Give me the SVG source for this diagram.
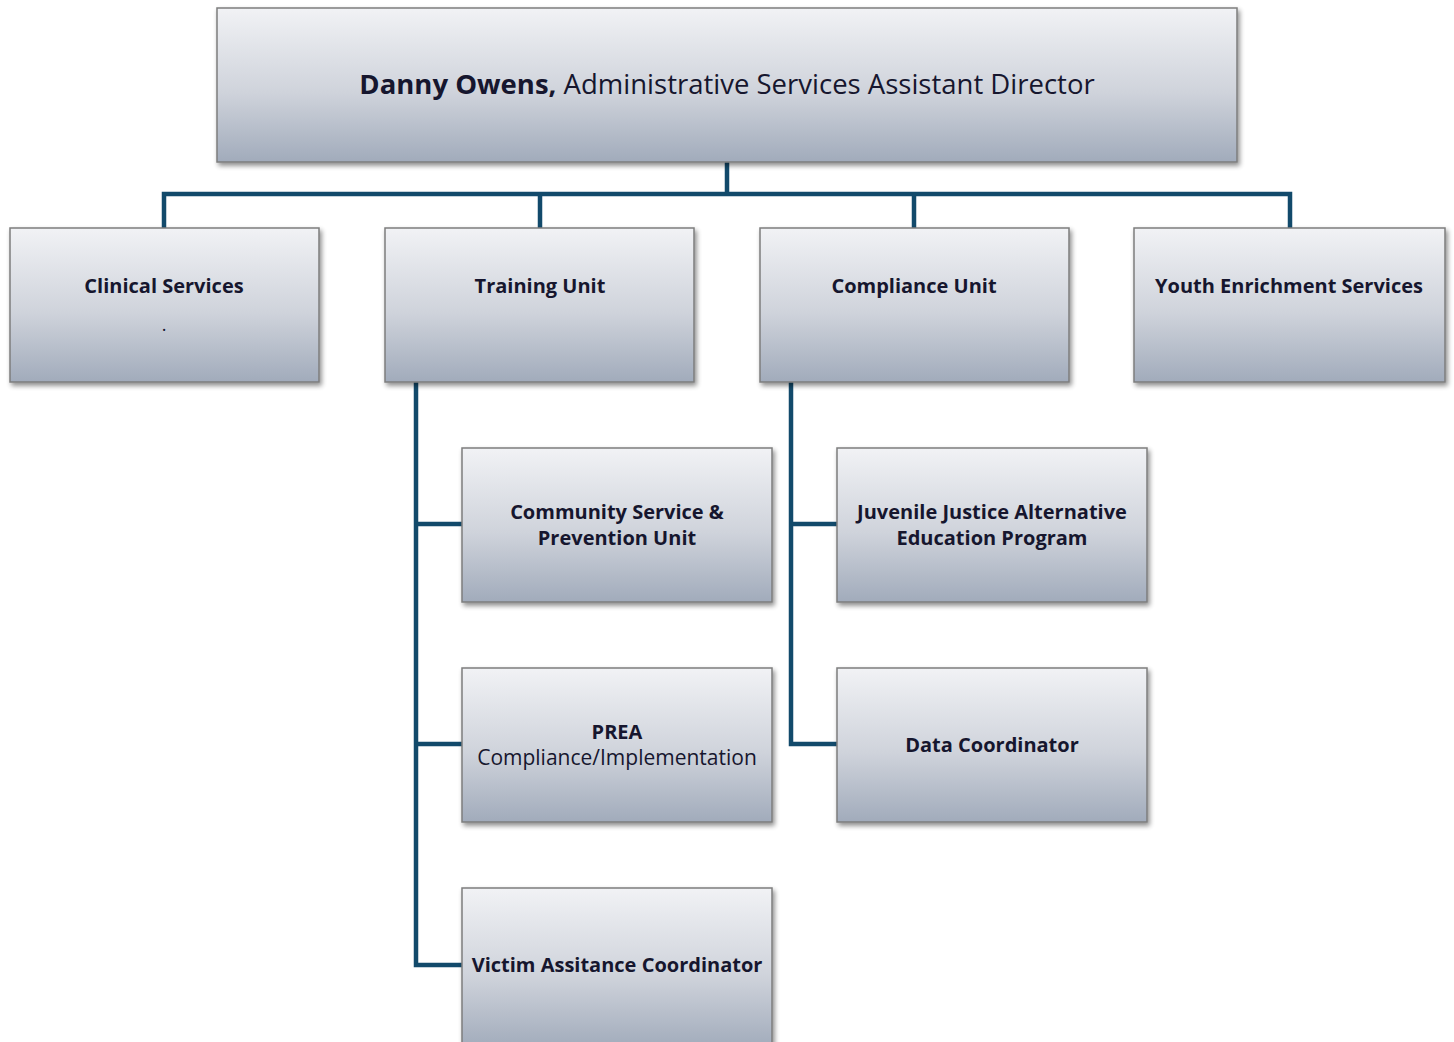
<svg xmlns="http://www.w3.org/2000/svg" width="1454" height="1042" viewBox="0 0 1454 1042">
<defs>
<linearGradient id="g" x1="0" y1="0" x2="0" y2="1">
<stop offset="0" stop-color="#f1f2f5"/>
<stop offset="0.55" stop-color="#cfd3db"/>
<stop offset="1" stop-color="#a1abbb"/>
</linearGradient>
<filter id="sh" x="-5%" y="-5%" width="110%" height="115%">
<feGaussianBlur in="SourceAlpha" stdDeviation="2.5"/>
<feOffset dx="2" dy="3" result="b"/>
<feComponentTransfer><feFuncA type="linear" slope="0.45"/></feComponentTransfer>
<feMerge><feMergeNode/><feMergeNode in="SourceGraphic"/></feMerge>
</filter>
</defs>
<style>
.box{fill:url(#g);stroke:#7d7d7d;stroke-width:1.5;filter:url(#sh)}
.t{font-family:"Open Sans","Liberation Sans",sans-serif;font-size:20px;font-weight:700;fill:#16162e;text-anchor:middle}
.n{font-weight:400}
.c{fill:none;stroke:#124a6b;stroke-width:4.5;stroke-linejoin:miter}
</style>
<rect width="1454" height="1042" fill="#ffffff"/>
<g id="connectors">
<path class="c" d="M727 162 V194 M164 228 V194 H1290 V228 M540 194 V228 M914 194 V228"/>
<path class="c" d="M416 382 V965 H462 M416 524 H462 M416 744 H462"/>
<path class="c" d="M791 382 V744 H837 M791 524 H837"/>
</g>
<g id="n-top">
<rect class="box" x="217" y="8" width="1020" height="154"/>
<text class="t" x="727" y="94" style="font-size:27.5px">Danny Owens, <tspan class="n">Administrative Services Assistant Director</tspan></text>
</g>
<g id="n-clinical">
<rect class="box" x="10" y="228" width="309" height="154"/>
<text class="t" x="164" y="293">Clinical Services</text>
<text class="t n" x="164" y="331" style="font-size:18px">.</text>
</g>
<g id="n-training">
<rect class="box" x="385" y="228" width="309" height="154"/>
<text class="t" x="540" y="293">Training Unit</text>
</g>
<g id="n-compliance">
<rect class="box" x="760" y="228" width="309" height="154"/>
<text class="t" x="914" y="293">Compliance Unit</text>
</g>
<g id="n-youth">
<rect class="box" x="1134" y="228" width="311" height="154"/>
<text class="t" x="1289" y="293">Youth Enrichment Services</text>
</g>
<g id="n-community">
<rect class="box" x="462" y="448" width="310" height="154"/>
<text class="t" x="617" y="519">Community Service &amp;</text>
<text class="t" x="617" y="545">Prevention Unit</text>
</g>
<g id="n-prea">
<rect class="box" x="462" y="668" width="310" height="154"/>
<text class="t" x="617" y="739">PREA</text>
<text class="t n" x="617" y="765" style="font-size:21px">Compliance/Implementation</text>
</g>
<g id="n-victim">
<rect class="box" x="462" y="888" width="310" height="160"/>
<text class="t" x="617" y="972">Victim Assitance Coordinator</text>
</g>
<g id="n-jjaep">
<rect class="box" x="837" y="448" width="310" height="154"/>
<text class="t" x="992" y="519">Juvenile Justice Alternative</text>
<text class="t" x="992" y="545">Education Program</text>
</g>
<g id="n-data">
<rect class="box" x="837" y="668" width="310" height="154"/>
<text class="t" x="992" y="752">Data Coordinator</text>
</g>
</svg>
